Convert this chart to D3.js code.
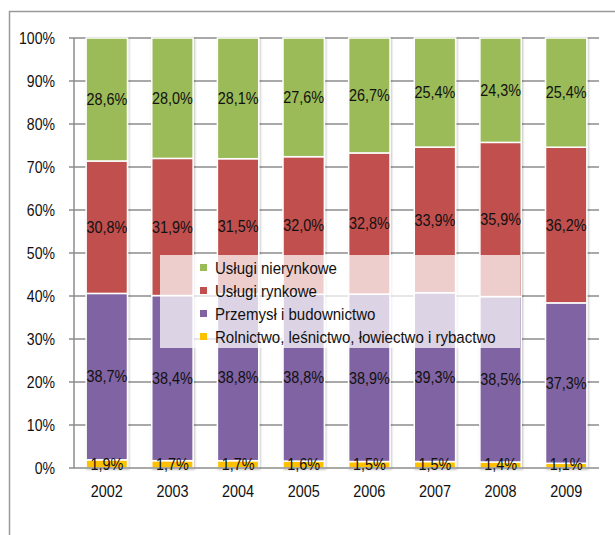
<!DOCTYPE html>
<html><head><meta charset="utf-8">
<script src="https://cdn.jsdelivr.net/npm/d3@7"></script>
<style>body{margin:0;background:#fff}svg{display:block;font-family:"Liberation Sans",Arial,sans-serif}</style>
</head><body><svg id="c" width="615" height="535"></svg>
<script>
const years = ["2002","2003","2004","2005","2006","2007","2008","2009"];
const seriesNames = ["Rolnictwo, leśnictwo, łowiectwo i rybactwo","Przemysł i budownictwo","Usługi rynkowe","Usługi nierynkowe"];
const seriesColors = ["#FFC000","#8064A2","#C0504D","#9BBB59"];
const rolnictwo = [1.9,1.7,1.7,1.6,1.5,1.5,1.4,1.1];
const przemysl = [38.7,38.4,38.8,38.8,38.9,39.3,38.5,37.3];
const rynkowe = [30.8,31.9,31.5,32.0,32.8,33.9,35.9,36.2];
const nierynkowe = [28.6,28.0,28.1,27.6,26.7,25.4,24.3,25.4];
const yTicks = [0,10,20,30,40,50,60,70,80,90,100];

const seriesVals = [rolnictwo, przemysl, rynkowe, nierynkowe];
const svg = d3.select("#c");
const m = {l:74, t:38, r:599, b:468};
const x = d3.scaleBand().domain(years).range([m.l, m.r]).paddingInner(0.37).paddingOuter(0.185);
const y = d3.scaleLinear().domain([0,100]).range([m.b, m.t]);

function txt(g, tx, ty, s, anchor, size, sx){
  return g.append("text").attr("transform",`translate(${tx},${ty}) scale(${sx},1)`)
    .attr("dy","0.36em").attr("text-anchor",anchor).attr("font-size",size).attr("fill","#111").text(s);
}

// outer frame
svg.append("path").attr("d","M9.5,535V11.5H615").attr("fill","none").attr("stroke","#9a9a9a").attr("stroke-width",1.5);

// gridlines
svg.append("g").selectAll("line").data(yTicks.filter(d=>d>0)).join("line")
  .attr("x1",m.l).attr("x2",m.r).attr("y1",d=>y(d)).attr("y2",d=>y(d))
  .attr("stroke","#8c8c8c").attr("stroke-width",1.5);
svg.append("line").attr("x1",m.l).attr("x2",m.l).attr("y1",m.t).attr("y2",m.b).attr("stroke","#8c8c8c").attr("stroke-width",1.5);
svg.append("g").selectAll("line").data(yTicks).join("line")
  .attr("x1",m.l-5).attr("x2",m.l).attr("y1",d=>y(d)).attr("y2",d=>y(d)).attr("stroke","#8c8c8c").attr("stroke-width",1.5);

// y labels
const yl = svg.append("g");
yTicks.forEach(d=>txt(yl, 55, y(d), d+"%", "end", 16, 0.88));

// stacks
const rows = years.map((yr,i)=>{
  const tot = d3.sum(seriesVals, s=>s[i]);
  let acc=0;
  return seriesVals.map((s,k)=>{ const y0=acc/tot*100; acc+=s[i]; return {yr,k,v:s[i],y0,y1:acc/tot*100}; });
});
const defs = svg.append("defs");
const f = defs.append("filter").attr("id","sh").attr("x","-20%").attr("y","-5%").attr("width","140%").attr("height","110%");
f.append("feDropShadow").attr("dx",1).attr("dy",1).attr("stdDeviation",1.2).attr("flood-color","#000").attr("flood-opacity",0.25);

const bars = svg.append("g");
rows.forEach(r=>{
  const g = bars.append("g").attr("filter","url(#sh)");
  g.selectAll("rect").data(r).join("rect")
    .attr("x",d=>x(d.yr)).attr("width",x.bandwidth())
    .attr("y",d=>y(d.y1)).attr("height",d=>y(d.y0)-y(d.y1))
    .attr("fill",d=>seriesColors[d.k]).attr("stroke","#fff").attr("stroke-width",1.5);
});
svg.append("line").attr("x1",m.l).attr("x2",m.r).attr("y1",m.b).attr("y2",m.b).attr("stroke","#8c8c8c").attr("stroke-width",1.5);

// legend
const lg = svg.append("g");
lg.append("rect").attr("x",160).attr("y",255).attr("width",360).attr("height",93).attr("fill","#fff").attr("opacity",0.72);
[3,2,1,0].forEach((k,i)=>{
  const yy = 268 + i*23;
  lg.append("rect").attr("x",200).attr("y",yy-4).attr("width",7).attr("height",7).attr("fill",seriesColors[k]);
  txt(lg, 215, yy, seriesNames[k], "start", 16, 0.94);
});

// data labels
const lab = svg.append("g");
rows.forEach(r=>{
  r.forEach(d=>{
    let cy = (y(d.y0)+y(d.y1))/2;
    if (d.k===0) cy = y(d.y0)-4;
    txt(lab, x(d.yr)+x.bandwidth()/2, cy, d.v.toFixed(1).replace(".",",")+"%", "middle", 16, 0.9);
  });
});

// x labels
const xl = svg.append("g");
years.forEach(d=>txt(xl, x(d)+x.bandwidth()/2, 491, d, "middle", 16, 0.9));
</script></body></html>
